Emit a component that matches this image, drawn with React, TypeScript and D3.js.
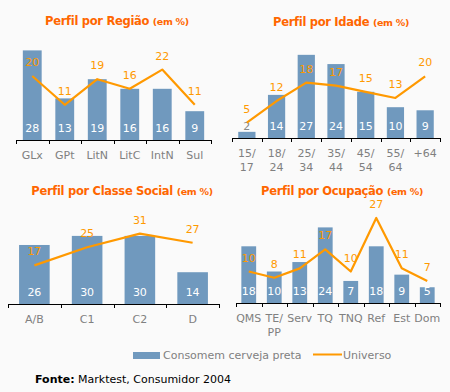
import React, { useEffect, useRef } from "react";
import * as d3 from "d3";

// categories (multi-line labels split by "|")
const regiaoCats = ["GLx", "GPt", "LitN", "LitC", "IntN", "Sul"];
const regiaoBeer = [28, 13, 19, 16, 16, 9];
const regiaoUniv = [20, 11, 19, 16, 22, 11];

const idadeCats = ["15/|17", "18/|24", "25/|34", "35/|44", "45/|54", "55/|64", "+64"];
const idadeBeer = [2, 14, 27, 24, 15, 10, 9];
const idadeUniv = [5, 12, 18, 17, 15, 13, 20];

const classeCats = ["A/B", "C1", "C2", "D"];
const classeBeer = [26, 30, 30, 14];
const classeUniv = [17, 25, 31, 27];

const ocupCats = ["QMS", "TE/|PP", "Serv", "TQ", "TNQ", "Ref", "Est", "Dom"];
const ocupBeer = [18, 10, 13, 24, 7, 18, 9, 5];
const ocupUniv = [10, 8, 11, 17, 10, 27, 11, 7];

const seriesNames = ["Consomem cerveja preta", "Universo"];

const BAR = "#7099be";
const LINE = "#ff9900";
const TITLE = "#ff6600";
const FONT = "'DejaVu Sans', Verdana, sans-serif";

type Panel = {
  title: string;
  cats: string[];
  beer: number[];
  univ: number[];
  x0: number;
  x1: number;
  base: number;
  pxPerUnit: number;
  titleX: number;
  titleY: number;
};

const panels: Panel[] = [
  { title: "Perfil por Região", cats: regiaoCats, beer: regiaoBeer, univ: regiaoUniv,
    x0: 16, x1: 211, base: 140, pxPerUnit: 3.2, titleX: 117, titleY: 25 },
  { title: "Perfil por Idade", cats: idadeCats, beer: idadeBeer, univ: idadeUniv,
    x0: 232, x1: 440, base: 138, pxPerUnit: 3.08, titleX: 341, titleY: 26 },
  { title: "Perfil por Classe Social", cats: classeCats, beer: classeBeer, univ: classeUniv,
    x0: 8, x1: 219, base: 304, pxPerUnit: 2.27, titleX: 122, titleY: 195 },
  { title: "Perfil por Ocupação", cats: ocupCats, beer: ocupBeer, univ: ocupUniv,
    x0: 236, x1: 440, base: 303, pxPerUnit: 3.15, titleX: 342, titleY: 195 },
];

function drawPanel(svg: any, p: Panel) {
  const g = svg.append("g");
  const x = d3.scaleBand().domain(p.cats).range([p.x0, p.x1]).paddingInner(0.42).paddingOuter(0.21);
  const band = d3.scaleBand().domain(p.cats).range([p.x0, p.x1]);
  const y = d3.scaleLinear().domain([0, 1]).range([p.base, p.base - p.pxPerUnit]);
  const cx = (c: string) => band(c)! + band.bandwidth() / 2;

  // title
  const t = g.append("text")
    .attr("x", p.titleX)
    .attr("y", p.titleY)
    .attr("text-anchor", "middle")
    .style("font-family", FONT)
    .style("font-weight", "bold")
    .style("letter-spacing", "-0.3px")
    .style("fill", TITLE);
  t.append("tspan").style("font-size", "11.5px").text(p.title + " ");
  t.append("tspan").style("font-size", "9.5px").text("(em %)");

  // bars
  g.selectAll("rect.bar")
    .data(p.beer)
    .join("rect")
    .attr("class", "bar")
    .attr("x", (_d: number, i: number) => x(p.cats[i]))
    .attr("width", x.bandwidth())
    .attr("y", (d: number) => y(d))
    .attr("height", (d: number) => p.base - y(d))
    .attr("fill", BAR);

  // bar labels
  g.selectAll("text.blab")
    .data(p.beer)
    .join("text")
    .attr("class", "blab")
    .attr("x", (_d: number, i: number) => cx(p.cats[i]))
    .attr("y", p.base - 8)
    .attr("text-anchor", "middle")
    .style("font-family", FONT)
    .style("font-size", "11px")
    .style("fill", (d: number) => (p.base - y(d) < 15 ? "#888" : "#fff"))
    .text((d: number) => d);

  // line
  const line = d3.line<number>()
    .x((_d, i) => cx(p.cats[i]))
    .y((d) => y(d));
  g.append("path")
    .datum(p.univ)
    .attr("d", line)
    .attr("fill", "none")
    .attr("stroke", LINE)
    .attr("stroke-width", 2.2)
    .attr("stroke-linejoin", "round");

  g.selectAll("text.llab")
    .data(p.univ)
    .join("text")
    .attr("class", "llab")
    .attr("x", (_d: number, i: number) => cx(p.cats[i]))
    .attr("y", (d: number) => y(d) - 10)
    .attr("text-anchor", "middle")
    .style("font-family", FONT)
    .style("font-size", "11px")
    .style("fill", LINE)
    .text((d: number) => d);

  // axis
  g.append("line")
    .attr("x1", p.x0).attr("x2", p.x1)
    .attr("y1", p.base + 0.5).attr("y2", p.base + 0.5)
    .attr("stroke", "#000").attr("stroke-width", 1);
  const edges = p.cats.map((c) => band(c)!).concat([p.x1]);
  g.selectAll("line.tick")
    .data(edges)
    .join("line")
    .attr("class", "tick")
    .attr("x1", (d: number) => Math.round(d) + 0.5)
    .attr("x2", (d: number) => Math.round(d) + 0.5)
    .attr("y1", p.base)
    .attr("y2", p.base + 4)
    .attr("stroke", "#000");

  const labs = g.selectAll("text.xlab")
    .data(p.cats)
    .join("text")
    .attr("class", "xlab")
    .attr("x", (d: string) => cx(d))
    .attr("y", p.base + 19)
    .attr("text-anchor", "middle")
    .style("font-family", FONT)
    .style("font-size", "11px")
    .style("fill", "#808080");
  labs.each(function (this: any, d: string) {
    const sel = d3.select(this);
    d.split("|").forEach((s, i) => {
      sel.append("tspan")
        .attr("x", cx(d))
        .attr("dy", i === 0 ? 0 : 14)
        .text(s);
    });
  });
}

export default function App() {
  const ref = useRef<HTMLDivElement>(null);

  useEffect(() => {
    const node = ref.current;
    if (!node) return;
    node.innerHTML = "";
    const svg = d3.select(node)
      .append("svg")
      .attr("width", 450)
      .attr("height", 392)
      .style("display", "block")
      .style("background", "#fafafa");

    panels.forEach((p) => drawPanel(svg, p));

    // legend
    const lg = svg.append("g").style("font-family", FONT).style("font-size", "11px");
    lg.append("rect").attr("x", 133).attr("y", 352).attr("width", 27).attr("height", 7).attr("fill", BAR);
    lg.append("text").attr("x", 163).attr("y", 359).style("fill", "#808080").text(seriesNames[0]);
    lg.append("line").attr("x1", 313).attr("x2", 342).attr("y1", 354.5).attr("y2", 354.5)
      .attr("stroke", LINE).attr("stroke-width", 2);
    lg.append("text").attr("x", 343).attr("y", 359).style("fill", "#808080").text(seriesNames[1]);

    // source
    const src = svg.append("text")
      .attr("x", 35).attr("y", 383)
      .style("font-family", FONT).style("font-size", "11px").style("fill", "#000");
    src.append("tspan").style("font-weight", "bold").text("Fonte:");
    src.append("tspan").text(" Marktest, Consumidor 2004");
  }, []);

  return <div ref={ref} style={{ position: "absolute", left: 0, top: 0 }}></div>;
}
